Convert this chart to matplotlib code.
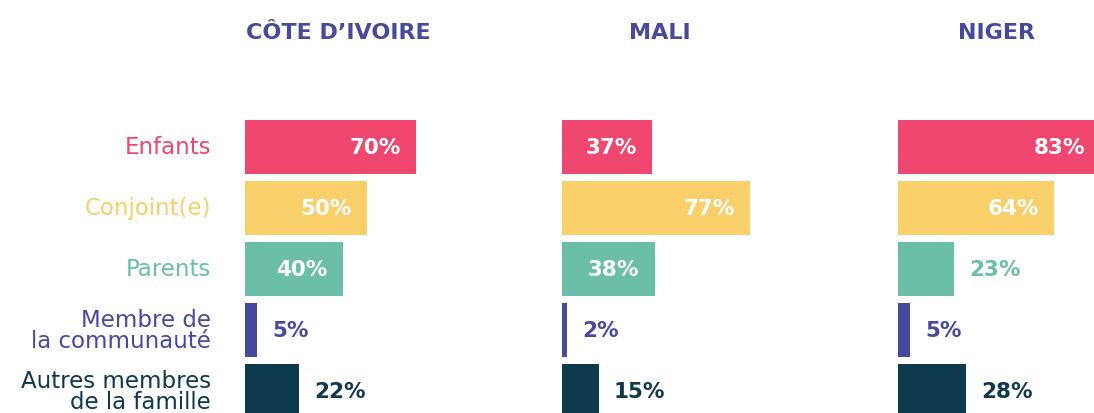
import matplotlib.pyplot as plt

countries = ["CÔTE D\u2019IVOIRE", "MALI", "NIGER"]
categories = ["Enfants", "Conjoint(e)", "Parents", "Membre de\nla communauté", "Autres membres\nde la famille"]
values = {
    "CÔTE D\u2019IVOIRE": [70, 50, 40, 5, 22],
    "MALI": [37, 77, 38, 2, 15],
    "NIGER": [83, 64, 23, 5, 28],
}
colors = ["#EF476F", "#F9CF69", "#6BBFA8", "#454A9E", "#0F3A4D"]
title_color = "#454A9E"

W, H = 1094, 414
fig = plt.figure(figsize=(W / 100, H / 100), dpi=100)

# pixel layout of each panel
lefts = [245, 562, 898]
title_x = [338, 660, 997]
px_per_pct = 2.44
top, pitch = 117.5, 61

for k, c in enumerate(countries):
    width = 100 * px_per_pct
    height = pitch * len(categories)
    ax = fig.add_axes([lefts[k] / W, (H - top - height) / H, width / W, height / H])
    ax.barh(range(len(categories)), values[c], height=0.9, color=colors)
    ax.set_xlim(0, 100)
    ax.set_ylim(len(categories) - 0.5, -0.5)
    ax.axis("off")
    for i, v in enumerate(values[c]):
        if v >= 30:
            ax.annotate(f"{v}%", (v, i), xytext=(-11, 0), textcoords="offset points",
                        ha="right", va="center", color="white", fontsize=15.5, fontweight="semibold")
        else:
            ax.annotate(f"{v}%", (v, i), xytext=(11, 0), textcoords="offset points",
                        ha="left", va="center", color=colors[i], fontsize=15.5, fontweight="semibold")
    if k == 0:
        for i, lab in enumerate(categories):
            ax.annotate(lab, (0, i), xytext=(-24.5, 0), textcoords="offset points",
                        ha="right", va="center", color=colors[i], fontsize=16.5,
                        linespacing=0.92, annotation_clip=False)
    fig.text(title_x[k] / W, 1 - 33 / H, c, ha="center", va="center",
             color=title_color, fontsize=16, fontweight="semibold")

fig.savefig("out.png", dpi=100)
